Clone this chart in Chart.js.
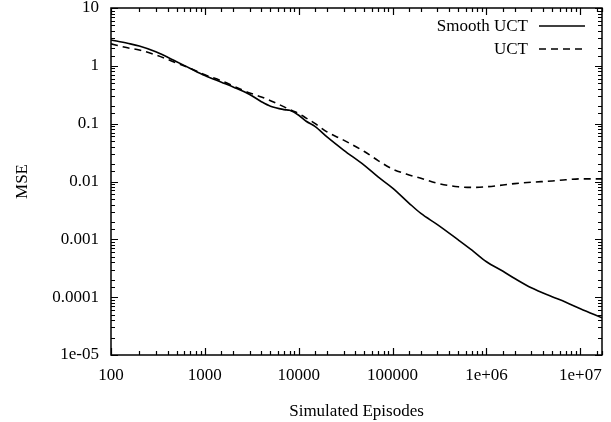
<!DOCTYPE html>
<html>
<head>
<meta charset="utf-8">
<script src="https://cdn.jsdelivr.net/npm/chart.js@4.4.1/dist/chart.umd.min.js"></script>
<style>
  html, body { margin: 0; padding: 0; background: #fff; }
  #wrap { width: 611px; height: 422px; }
</style>
</head>
<body>
<div id="wrap"><canvas id="mse_chart"></canvas></div>
<script>
'use strict';

// Data
// --------------------------------------------------------------------
const episodes = [100, 150, 200, 300, 500, 700, 1000, 1500, 2000, 3000, 4000, 5000, 7000, 8000,
  10000, 12000, 15000, 20000, 30000, 50000, 70000, 100000, 150000, 200000, 300000, 500000,
  700000, 1000000, 1500000, 2000000, 3000000, 5000000, 7000000, 10000000, 17000000];
const smoothUct = [2.8, 2.45, 2.2, 1.75, 1.18, 0.9, 0.68, 0.52, 0.43, 0.32, 0.24, 0.2, 0.175, 0.17,
  0.14, 0.11, 0.089, 0.059, 0.035, 0.019, 0.012, 0.0077, 0.0042, 0.0028, 0.0018, 0.00098,
  0.00065, 0.00041, 0.00028, 0.00021, 0.000145, 0.000102, 0.000082, 0.000063, 0.000044];
const uct = [2.4, 2.05, 1.88, 1.54, 1.12, 0.9, 0.7, 0.55, 0.45, 0.34, 0.29, 0.25, 0.195, 0.175,
  0.15, 0.125, 0.1, 0.072, 0.052, 0.033, 0.023, 0.0164, 0.013, 0.0114, 0.0093, 0.0081,
  0.0079, 0.0081, 0.0087, 0.0092, 0.0097, 0.0102, 0.0107, 0.0111, 0.0111];
const seriesNames = ['Smooth UCT', 'UCT'];

const xTitle = 'Simulated Episodes';
const yTitle = 'MSE';

const fontFamily = '"Liberation Serif", "Times New Roman", serif';
const fontSize = 17;
const inkColor = '#000000';

// gnuplot style %g labels: 100, 1000, 1e+06, 0.001, 1e-05
function powerLabel(value) {
  const exp = Math.round(Math.log10(value));
  if (Math.abs(Math.log10(value) - exp) > 1e-6) return '';
  if (exp >= 6 || exp < -4) {
    return '1e' + (exp < 0 ? '-' : '+') + String(Math.abs(exp)).padStart(2, '0');
  }
  return exp < 0 ? Math.pow(10, exp).toFixed(-exp) : String(Math.pow(10, exp));
}

function isPower(value) {
  return powerLabel(value) !== '';
}

// Frame, inside tick marks and key, gnuplot style
// --------------------------------------------------------------------
const gnuplotFrame = {
  id: 'gnuplotFrame',
  afterDatasetsDraw(chart) {
    const { ctx, chartArea: area, scales } = chart;
    ctx.save();
    ctx.strokeStyle = inkColor;
    ctx.lineWidth = 1.2;
    ctx.beginPath();
    scales.x.ticks.forEach(function (t) {
      if (t.value < scales.x.min || t.value > scales.x.max) return;
      const px = Math.round(scales.x.getPixelForValue(t.value)) + 0.5;
      const len = isPower(t.value) ? 7 : 4;
      ctx.moveTo(px, area.bottom); ctx.lineTo(px, area.bottom - len);
      ctx.moveTo(px, area.top); ctx.lineTo(px, area.top + len);
    });
    scales.y.ticks.forEach(function (t) {
      if (t.value < scales.y.min || t.value > scales.y.max) return;
      const py = Math.round(scales.y.getPixelForValue(t.value)) + 0.5;
      const len = isPower(t.value) ? 7 : 4;
      ctx.moveTo(area.left, py); ctx.lineTo(area.left + len, py);
      ctx.moveTo(area.right, py); ctx.lineTo(area.right - len, py);
    });
    ctx.stroke();

    ctx.lineWidth = 1.5;
    ctx.strokeRect(area.left, area.top, area.right - area.left, area.bottom - area.top);

    // key
    ctx.font = fontSize + 'px ' + fontFamily;
    ctx.fillStyle = inkColor;
    ctx.textAlign = 'right';
    ctx.textBaseline = 'middle';
    chart.data.datasets.forEach(function (ds, i) {
      const rowY = area.top + 18 + i * 23;
      ctx.fillText(ds.label, area.right - 74, rowY + 1);
      ctx.beginPath();
      ctx.setLineDash(ds.borderDash || []);
      ctx.lineWidth = ds.borderWidth;
      ctx.moveTo(area.right - 63, rowY);
      ctx.lineTo(area.right - 17, rowY);
      ctx.stroke();
      ctx.setLineDash([]);
    });
    ctx.restore();
  }
};

const chartEl = document.getElementById('mse_chart');
if (chartEl) {
  const mseChart = new Chart(chartEl, {
    type: 'line',
    data: {
      datasets: [
        {
          label: seriesNames[0],
          data: episodes.map(function (x, i) { return { x: x, y: smoothUct[i] }; }),
          borderColor: inkColor,
          borderWidth: 1.6,
          pointRadius: 0,
          cubicInterpolationMode: 'monotone',
          fill: false
        },
        {
          label: seriesNames[1],
          data: episodes.map(function (x, i) { return { x: x, y: uct[i] }; }),
          borderColor: inkColor,
          borderWidth: 1.6,
          borderDash: [7, 5],
          pointRadius: 0,
          cubicInterpolationMode: 'monotone',
          fill: false
        }
      ]
    },
    options: {
      responsive: true,
      maintainAspectRatio: false,
      animation: false,
      layout: {
        padding: { top: 8, right: 9, left: 0, bottom: 0 }
      },
      plugins: {
        legend: { display: false },
        tooltip: { enabled: false }
      },
      scales: {
        x: {
          type: 'logarithmic',
          min: 100,
          max: 17000000,
          grid: { display: false, drawTicks: false },
          border: { display: false },
          afterFit: function (scale) {
            scale.height = 67;
            scale.paddingLeft = 0;
            scale.paddingRight = 0;
          },
          ticks: {
            autoSkip: false,
            maxRotation: 0,
            padding: 10,
            color: inkColor,
            font: { family: fontFamily, size: fontSize },
            callback: function (value) { return powerLabel(value); }
          },
          title: {
            display: true,
            text: xTitle,
            color: inkColor,
            font: { family: fontFamily, size: fontSize },
            padding: { bottom: 0 }
          }
        },
        y: {
          type: 'logarithmic',
          min: 0.00001,
          max: 10,
          grid: { display: false, drawTicks: false },
          border: { display: false },
          afterFit: function (scale) {
            scale.width = 111;
            scale.paddingTop = 0;
            scale.paddingBottom = 0;
          },
          ticks: {
            autoSkip: false,
            padding: 12,
            color: inkColor,
            font: { family: fontFamily, size: fontSize },
            callback: function (value) { return powerLabel(value); }
          },
          title: {
            display: true,
            text: yTitle,
            color: inkColor,
            font: { family: fontFamily, size: fontSize },
            padding: { top: 12 }
          }
        }
      }
    },
    plugins: [gnuplotFrame]
  });
}
</script>
</body>
</html>
